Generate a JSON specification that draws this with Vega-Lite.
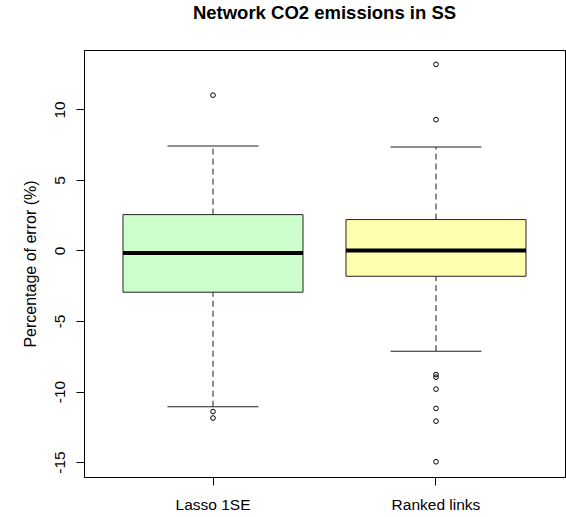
{
  "$schema": "https://vega.github.io/schema/vega-lite/v6.json",
  "width": 481,
  "height": 427,
  "autosize": "none",
  "padding": {"left": 84, "top": 50, "right": 1, "bottom": 40},
  "background": "white",
  "title": {
    "text": "Network CO2 emissions in SS",
    "font": "Liberation Sans",
    "fontSize": 18.5,
    "fontWeight": "bold",
    "color": "black",
    "anchor": "middle",
    "baseline": "alphabetic",
    "offset": 13
  },
  "config": {
    "view": {"stroke": "black", "strokeWidth": 1},
    "axis": {
      "grid": false,
      "domain": false,
      "tickColor": "black",
      "tickSize": 8,
      "labelFont": "Liberation Sans",
      "labelFontSize": 15.5,
      "labelColor": "black",
      "titleFont": "Liberation Sans",
      "titleFontSize": 16,
      "titleFontWeight": "normal",
      "titleColor": "black"
    }
  },
  "datasets": {
    "boxes": [
      {"method": "Lasso 1SE", "lower": -11.08, "q1": -2.96, "median": -0.18, "q3": 2.54, "upper": 7.40},
      {"method": "Ranked links", "lower": -7.14, "q1": -1.83, "median": -0.01, "q3": 2.19, "upper": 7.33}
    ],
    "outliers": [
      {"method": "Lasso 1SE", "value": 11.01},
      {"method": "Lasso 1SE", "value": -11.42},
      {"method": "Lasso 1SE", "value": -11.88},
      {"method": "Ranked links", "value": 13.19},
      {"method": "Ranked links", "value": 9.27},
      {"method": "Ranked links", "value": -8.80},
      {"method": "Ranked links", "value": -8.98},
      {"method": "Ranked links", "value": -9.83},
      {"method": "Ranked links", "value": -11.20},
      {"method": "Ranked links", "value": -12.10},
      {"method": "Ranked links", "value": -14.98}
    ]
  },
  "data": {"name": "boxes"},
  "encoding": {
    "x": {
      "field": "method",
      "type": "nominal",
      "scale": {"type": "band", "domain": ["Lasso 1SE", "Ranked links"], "paddingInner": 0, "paddingOuter": 0.0785},
      "axis": {"title": null, "labelAngle": 0, "labelPadding": 12}
    }
  },
  "layer": [
    {
      "mark": {"type": "rule", "strokeDash": [6, 4], "color": "#1a1a1a", "strokeWidth": 1},
      "encoding": {
        "y": {
          "field": "q3",
          "type": "quantitative",
          "scale": {"domain": [-16.06, 14.21], "nice": false, "zero": false},
          "axis": {
            "values": [-15, -10, -5, 0, 5, 10],
            "labelExpr": "'' + datum.value",
            "labelAngle": -90,
            "labelAlign": "center",
            "labelBaseline": "alphabetic",
            "labelPadding": 12,
            "title": "Percentage of error (%)",
            "titleAngle": -90,
            "titleX": -54,
            "titleY": 213.5,
            "titleAlign": "center",
            "titleBaseline": "middle"
          }
        },
        "y2": {"field": "upper"}
      }
    },
    {
      "mark": {"type": "rule", "strokeDash": [6, 4], "color": "#1a1a1a", "strokeWidth": 1},
      "encoding": {
        "y": {"field": "lower", "type": "quantitative"},
        "y2": {"field": "q1"}
      }
    },
    {
      "mark": {"type": "tick", "size": 91, "thickness": 1, "color": "#222222", "opacity": 1},
      "encoding": {"y": {"field": "upper", "type": "quantitative"}}
    },
    {
      "mark": {"type": "tick", "size": 91, "thickness": 1, "color": "#222222", "opacity": 1},
      "encoding": {"y": {"field": "lower", "type": "quantitative"}}
    },
    {
      "mark": {"type": "bar", "size": 180, "stroke": "#222222", "strokeWidth": 1, "opacity": 1},
      "encoding": {
        "y": {"field": "q1", "type": "quantitative"},
        "y2": {"field": "q3"},
        "fill": {
          "field": "method",
          "type": "nominal",
          "scale": {"domain": ["Lasso 1SE", "Ranked links"], "range": ["#ccffcc", "#ffffad"]},
          "legend": null
        }
      }
    },
    {
      "mark": {"type": "tick", "size": 180, "thickness": 4, "color": "black", "opacity": 1},
      "encoding": {"y": {"field": "median", "type": "quantitative"}}
    },
    {
      "data": {"name": "outliers"},
      "mark": {"type": "point", "shape": "circle", "filled": false, "size": 22, "stroke": "black", "strokeWidth": 1, "opacity": 1},
      "encoding": {"y": {"field": "value", "type": "quantitative"}}
    }
  ]
}
